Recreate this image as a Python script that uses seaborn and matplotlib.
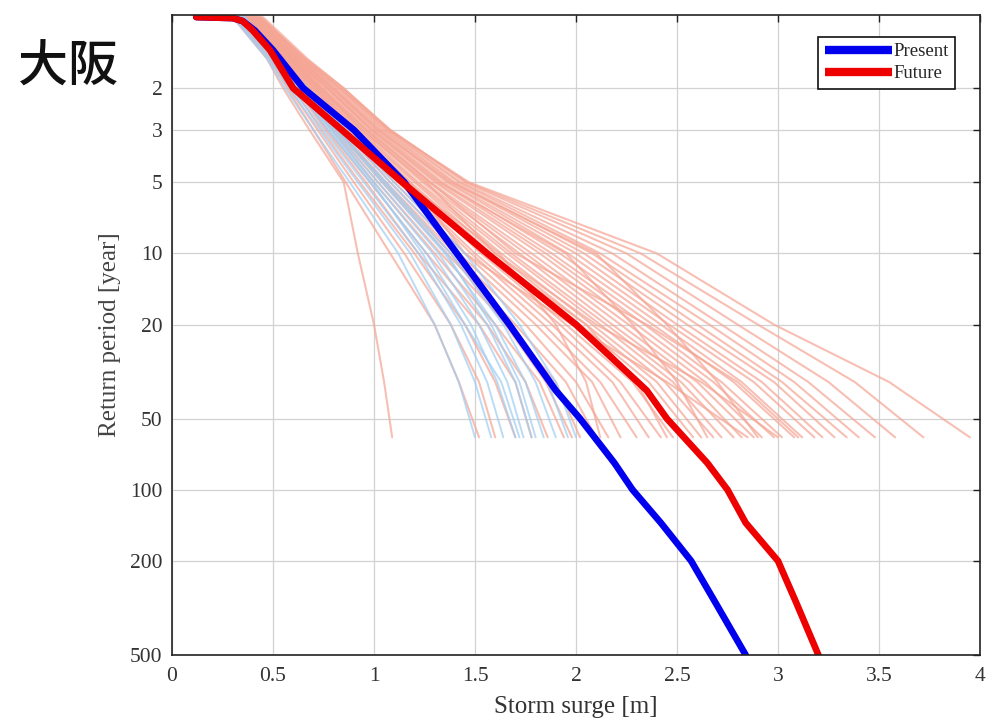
import numpy as np
import pandas as pd
import matplotlib
matplotlib.use("Agg")
import matplotlib.pyplot as plt
import seaborn as sns
from matplotlib.lines import Line2D

# ---------------- data ----------------
title_text = "大阪"
xlabel_text = "Storm surge [m]"
ylabel_text = "Return period [year]"
ytick_values = [2, 3, 5, 10, 20, 50, 100, 200, 500]
xtick_values = [0, 0.5, 1, 1.5, 2, 2.5, 3, 3.5, 4]
xtick_labels = ["0", "0.5", "1", "1.5", "2", "2.5", "3", "3.5", "4"]

# thick curves
thick_period = [1.0, 1.01, 1.04, 1.14, 1.38, 2, 3, 5, 10, 20, 38, 50, 77, 100, 138, 200, 300, 500]
present_surge = [0.12, 0.30, 0.35, 0.41, 0.50, 0.65, 0.90, 1.15, 1.41, 1.67, 1.90, 2.02, 2.19,
                 2.28, 2.42, 2.57, 2.69, 2.84]
future_surge = [0.12, 0.30, 0.35, 0.40, 0.485, 0.60, 0.84, 1.14, 1.56, 2.00, 2.35, 2.45, 2.65,
                2.75, 2.84, 3.00, 3.09, 3.20]

# thin member curves: surge at these return periods
member_period = [1.0, 1.5, 2, 3, 5, 10, 20, 35, 60]
future_members = [
    [0.30, 0.47, 0.55, 0.68, 0.85, 0.92, 1.00, 1.05, 1.09],
    [0.31, 0.48, 0.57, 0.70, 0.86, 1.08, 1.30, 1.42, 1.52],
    [0.32, 0.49, 0.58, 0.72, 0.90, 1.15, 1.38, 1.52, 1.60],
    [0.33, 0.50, 0.60, 0.74, 0.93, 1.20, 1.45, 1.60, 1.70],
    [0.32, 0.50, 0.61, 0.76, 0.96, 1.22, 1.52, 1.70, 1.78],
    [0.34, 0.51, 0.62, 0.77, 0.98, 1.26, 1.56, 1.75, 1.86],
    [0.33, 0.52, 0.63, 0.79, 1.00, 1.30, 1.60, 1.82, 1.94],
    [0.35, 0.52, 0.64, 0.80, 1.02, 1.33, 1.66, 1.90, 2.02],
    [0.34, 0.53, 0.65, 0.81, 1.04, 1.36, 1.70, 1.95, 2.10],
    [0.36, 0.53, 0.66, 0.82, 1.06, 1.40, 1.75, 2.00, 2.16],
    [0.35, 0.54, 0.66, 0.84, 1.08, 1.42, 1.80, 2.08, 2.22],
    [0.36, 0.54, 0.67, 0.85, 1.10, 1.45, 1.84, 2.12, 2.30],
    [0.37, 0.55, 0.68, 0.86, 1.12, 1.48, 1.88, 2.18, 2.36],
    [0.36, 0.55, 0.69, 0.87, 1.13, 1.50, 1.92, 2.22, 2.42],
    [0.37, 0.56, 0.70, 0.88, 1.15, 1.53, 1.95, 2.28, 2.48],
    [0.38, 0.56, 0.70, 0.89, 1.16, 1.55, 1.98, 2.32, 2.52],
    [0.37, 0.57, 0.71, 0.90, 1.18, 1.58, 2.02, 2.36, 2.58],
    [0.38, 0.57, 0.72, 0.91, 1.20, 1.60, 2.05, 2.40, 2.62],
    [0.39, 0.58, 0.72, 0.92, 1.21, 1.63, 2.08, 2.44, 2.68],
    [0.38, 0.58, 0.73, 0.93, 1.22, 1.66, 2.12, 2.48, 2.72],
    [0.39, 0.59, 0.74, 0.94, 1.24, 1.68, 2.15, 2.52, 2.78],
    [0.40, 0.59, 0.74, 0.95, 1.25, 1.72, 2.18, 2.56, 2.82],
    [0.39, 0.60, 0.75, 0.96, 1.27, 1.75, 2.22, 2.60, 2.88],
    [0.40, 0.60, 0.76, 0.97, 1.28, 1.78, 2.26, 2.64, 2.92],
    [0.41, 0.61, 0.77, 0.98, 1.30, 1.82, 2.30, 2.68, 2.98],
    [0.40, 0.61, 0.77, 0.99, 1.31, 1.85, 2.34, 2.72, 3.02],
    [0.41, 0.62, 0.78, 1.00, 1.33, 1.88, 2.38, 2.78, 3.08],
    [0.42, 0.62, 0.79, 1.01, 1.34, 1.92, 2.42, 2.82, 3.12],
    [0.41, 0.63, 0.80, 1.02, 1.36, 1.96, 2.46, 2.88, 3.18],
    [0.42, 0.63, 0.80, 1.03, 1.37, 2.00, 2.50, 2.92, 3.22],
    [0.43, 0.64, 0.81, 1.04, 1.39, 2.04, 2.55, 2.98, 3.28],
    [0.42, 0.64, 0.82, 1.05, 1.40, 2.08, 2.60, 3.02, 3.34],
    [0.43, 0.65, 0.83, 1.06, 1.42, 2.12, 2.66, 3.08, 3.40],
    [0.44, 0.65, 0.83, 1.07, 1.43, 2.18, 2.72, 3.15, 3.48],
    [0.43, 0.66, 0.84, 1.08, 1.45, 2.25, 2.80, 3.25, 3.58],
    [0.44, 0.66, 0.85, 1.08, 1.46, 2.32, 2.90, 3.38, 3.72],
    [0.45, 0.67, 0.85, 1.07, 1.47, 2.40, 2.98, 3.55, 3.95],
    [0.36, 0.55, 0.68, 0.88, 1.16, 1.62, 1.90, 2.05, 2.12],
    [0.38, 0.58, 0.73, 0.94, 1.26, 1.60, 2.10, 2.62, 3.00],
    [0.35, 0.53, 0.66, 0.84, 1.12, 1.56, 2.05, 2.30, 2.45],
    [0.40, 0.60, 0.77, 0.99, 1.32, 1.95, 2.28, 2.50, 2.65],
    [0.37, 0.56, 0.71, 0.90, 1.18, 1.45, 1.98, 2.45, 2.85],
    [0.41, 0.62, 0.79, 1.02, 1.38, 2.10, 2.45, 2.70, 2.90],
    [0.39, 0.59, 0.74, 0.96, 1.28, 1.70, 2.35, 2.80, 3.10],
    [0.34, 0.52, 0.64, 0.82, 1.05, 1.38, 1.65, 1.85, 1.98],
]
present_members = [
    [0.30, 0.47, 0.56, 0.70, 0.88, 1.12, 1.30, 1.42, 1.50],
    [0.31, 0.48, 0.58, 0.73, 0.92, 1.18, 1.38, 1.50, 1.58],
    [0.32, 0.49, 0.59, 0.75, 0.95, 1.22, 1.43, 1.56, 1.64],
    [0.33, 0.50, 0.61, 0.77, 0.98, 1.26, 1.48, 1.61, 1.70],
    [0.33, 0.51, 0.62, 0.79, 1.00, 1.29, 1.52, 1.66, 1.74],
    [0.34, 0.52, 0.63, 0.80, 1.02, 1.32, 1.56, 1.70, 1.78],
    [0.35, 0.52, 0.64, 0.82, 1.04, 1.35, 1.60, 1.75, 1.84],
    [0.35, 0.53, 0.65, 0.83, 1.06, 1.38, 1.64, 1.80, 1.90],
    [0.36, 0.54, 0.66, 0.85, 1.08, 1.42, 1.68, 1.86, 1.96],
    [0.36, 0.54, 0.67, 0.86, 1.10, 1.45, 1.72, 1.90, 2.00],
    [0.34, 0.51, 0.62, 0.78, 0.99, 1.24, 1.45, 1.63, 1.72],
    [0.35, 0.53, 0.64, 0.81, 1.05, 1.36, 1.58, 1.72, 1.80],
]

# ---------------- tables ----------------
def members_frame(members):
    rows = []
    for i, m in enumerate(members):
        for p, s in zip(member_period, m):
            rows.append({"member": i, "period": p, "surge": s})
    return pd.DataFrame(rows)

df_future = members_frame(future_members)
df_present = members_frame(present_members)
df_thick_p = pd.DataFrame({"period": thick_period, "surge": present_surge})
df_thick_f = pd.DataFrame({"period": thick_period, "surge": future_surge})

# ---------------- plot ----------------
sns.set_style("white")
plt.rcParams["font.family"] = ["Liberation Serif", "DejaVu Serif"]

fig = plt.figure(figsize=(10, 7.2), dpi=100)
ax = fig.add_axes([0.172, 0.0903, 0.808, 0.8889])

sns.lineplot(data=df_future, x="surge", y="period", units="member", estimator=None,
             sort=False, color="#f5a594", alpha=0.7, lw=1.5, ax=ax)
sns.lineplot(data=df_present, x="surge", y="period", units="member", estimator=None,
             sort=False, color="#9fcdf2", alpha=0.7, lw=1.4, ax=ax)
sns.lineplot(data=df_thick_p, x="surge", y="period", estimator=None, sort=False,
             color="#0000ee", lw=4.8, ax=ax)
sns.lineplot(data=df_thick_f, x="surge", y="period", estimator=None, sort=False,
             color="#ee0000", lw=4.8, ax=ax)

ax.set_yscale("log")
ax.set_xlim(0, 4)
ax.set_ylim(500, 0.98)
ax.set_yticks(ytick_values)
ax.set_yticklabels([str(v) for v in ytick_values])
ax.yaxis.set_minor_locator(matplotlib.ticker.NullLocator())
ax.set_xticks(xtick_values)
ax.set_xticklabels(xtick_labels)

ax.grid(True, color="#d2d2d2", lw=0.9)
ax.set_axisbelow(True)
for sp in ax.spines.values():
    sp.set_color("#222222")
    sp.set_linewidth(1.2)
ax.tick_params(direction="in", length=5, width=1, top=True, right=True,
               labelsize=15.5, labelcolor="#333333", color="#222222")
ax.tick_params(axis="x", pad=9)
ax.tick_params(axis="y", pad=7)

ax.set_xlabel(xlabel_text, fontsize=18, color="#333333", labelpad=7)
ax.set_ylabel(ylabel_text, fontsize=18, color="#444444", labelpad=6)

handles = [Line2D([0], [0], color="#0000ee", lw=6, solid_capstyle="butt"),
           Line2D([0], [0], color="#ee0000", lw=6, solid_capstyle="butt")]
leg = ax.legend(handles, ["Present", "Future"], loc="upper right",
                bbox_to_anchor=(0.969, 0.966), borderaxespad=0, fancybox=False,
                framealpha=1, edgecolor="#111111", fontsize=13.5,
                handlelength=3.6, handletextpad=0.05, borderpad=0.35,
                labelspacing=0.25)
leg.get_frame().set_linewidth(1.2)

fig.text(0.018, 0.906, title_text, fontsize=36, family=["Noto Sans CJK JP", "DejaVu Sans"],
         ha="left", va="center", color="#111111", fontweight="medium")

fig.savefig("out.png", dpi=100)
